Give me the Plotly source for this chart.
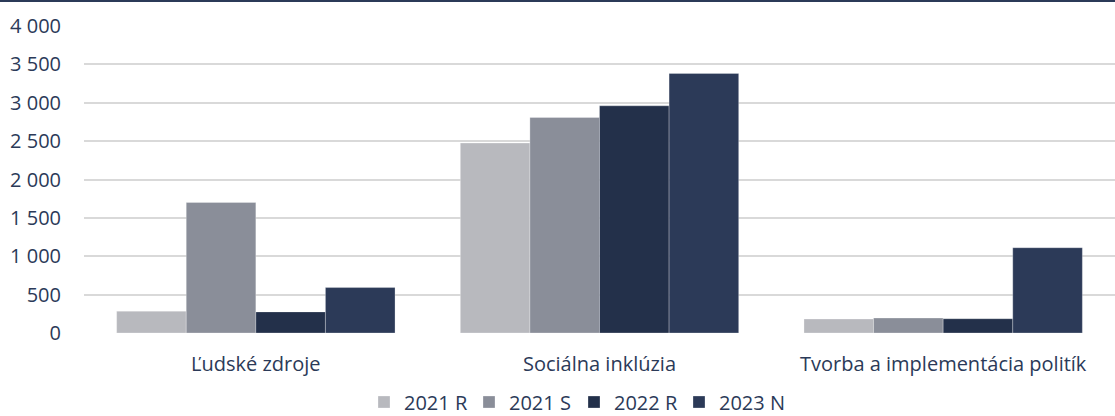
import plotly.graph_objects as go

# kategórie a hodnoty (odčítané z grafu)
categories = ['Ľudské zdroje', 'Sociálna inklúzia', 'Tvorba a implementácia politík']
series_names = ['2021 R', '2021 S', '2022 R', '2023 N']
values_2021_r = [285, 2475, 182]
values_2021_s = [1700, 2808, 195]
values_2022_r = [275, 2960, 186]
values_2023_n = [592, 3382, 1111]
y_ticks = [0, 500, 1000, 1500, 2000, 2500, 3000, 3500, 4000]

colors = ['#b8b9be', '#8a8e99', '#23304a', '#2c3a58']
TEXT_COLOR = '#2b3a58'
FONT = 'Open Sans'
FS = 20

fig = go.Figure()
for name, vals, col in zip(series_names,
                           [values_2021_r, values_2021_s, values_2022_r, values_2023_n],
                           colors):
    fig.add_trace(go.Bar(
        x=categories, y=vals, name=name,
        marker=dict(color=col, line=dict(color='rgba(255,255,255,0.35)', width=0.8)),
    ))

fig.update_layout(
    width=1115, height=416,
    barmode='group', bargap=0.19, bargroupgap=0,
    plot_bgcolor='white', paper_bgcolor='white',
    margin=dict(l=84, r=0, t=26, b=83, autoexpand=False),
    separators=', ',
    font=dict(family=FONT, size=FS, color=TEXT_COLOR),
    legend=dict(orientation='h', xref='container', x=364 / 1115, xanchor='left',
                yref='container', y=14 / 416, yanchor='middle',
                font=dict(size=FS, color=TEXT_COLOR), itemwidth=30,
                entrywidth=60, traceorder='normal'),
    xaxis=dict(showgrid=False, showline=False, ticks='', automargin=False,
               ticklabelstandoff=17,
               tickfont=dict(size=FS, color=TEXT_COLOR)),
    yaxis=dict(range=[0, 4000], tickvals=y_ticks, tickformat=',d', automargin=False,
               showgrid=True, gridcolor='#d9d9d9', gridwidth=1.5,
               zeroline=False, showline=False, ticks='', ticklabelstandoff=22,
               tickfont=dict(size=FS, color=TEXT_COLOR)),
)
# tmavá čiara na hornom okraji
fig.add_shape(type='line', xref='paper', yref='paper', x0=-84 / 1031, x1=1,
              y0=1 + 25 / 307, y1=1 + 25 / 307,
              line=dict(color=TEXT_COLOR, width=2))

# bez okraja stránky, aby graf sedel presne v okne
fig.write_html('out.html', config={'displayModeBar': False},
               post_script="document.body.style.margin='0';")
